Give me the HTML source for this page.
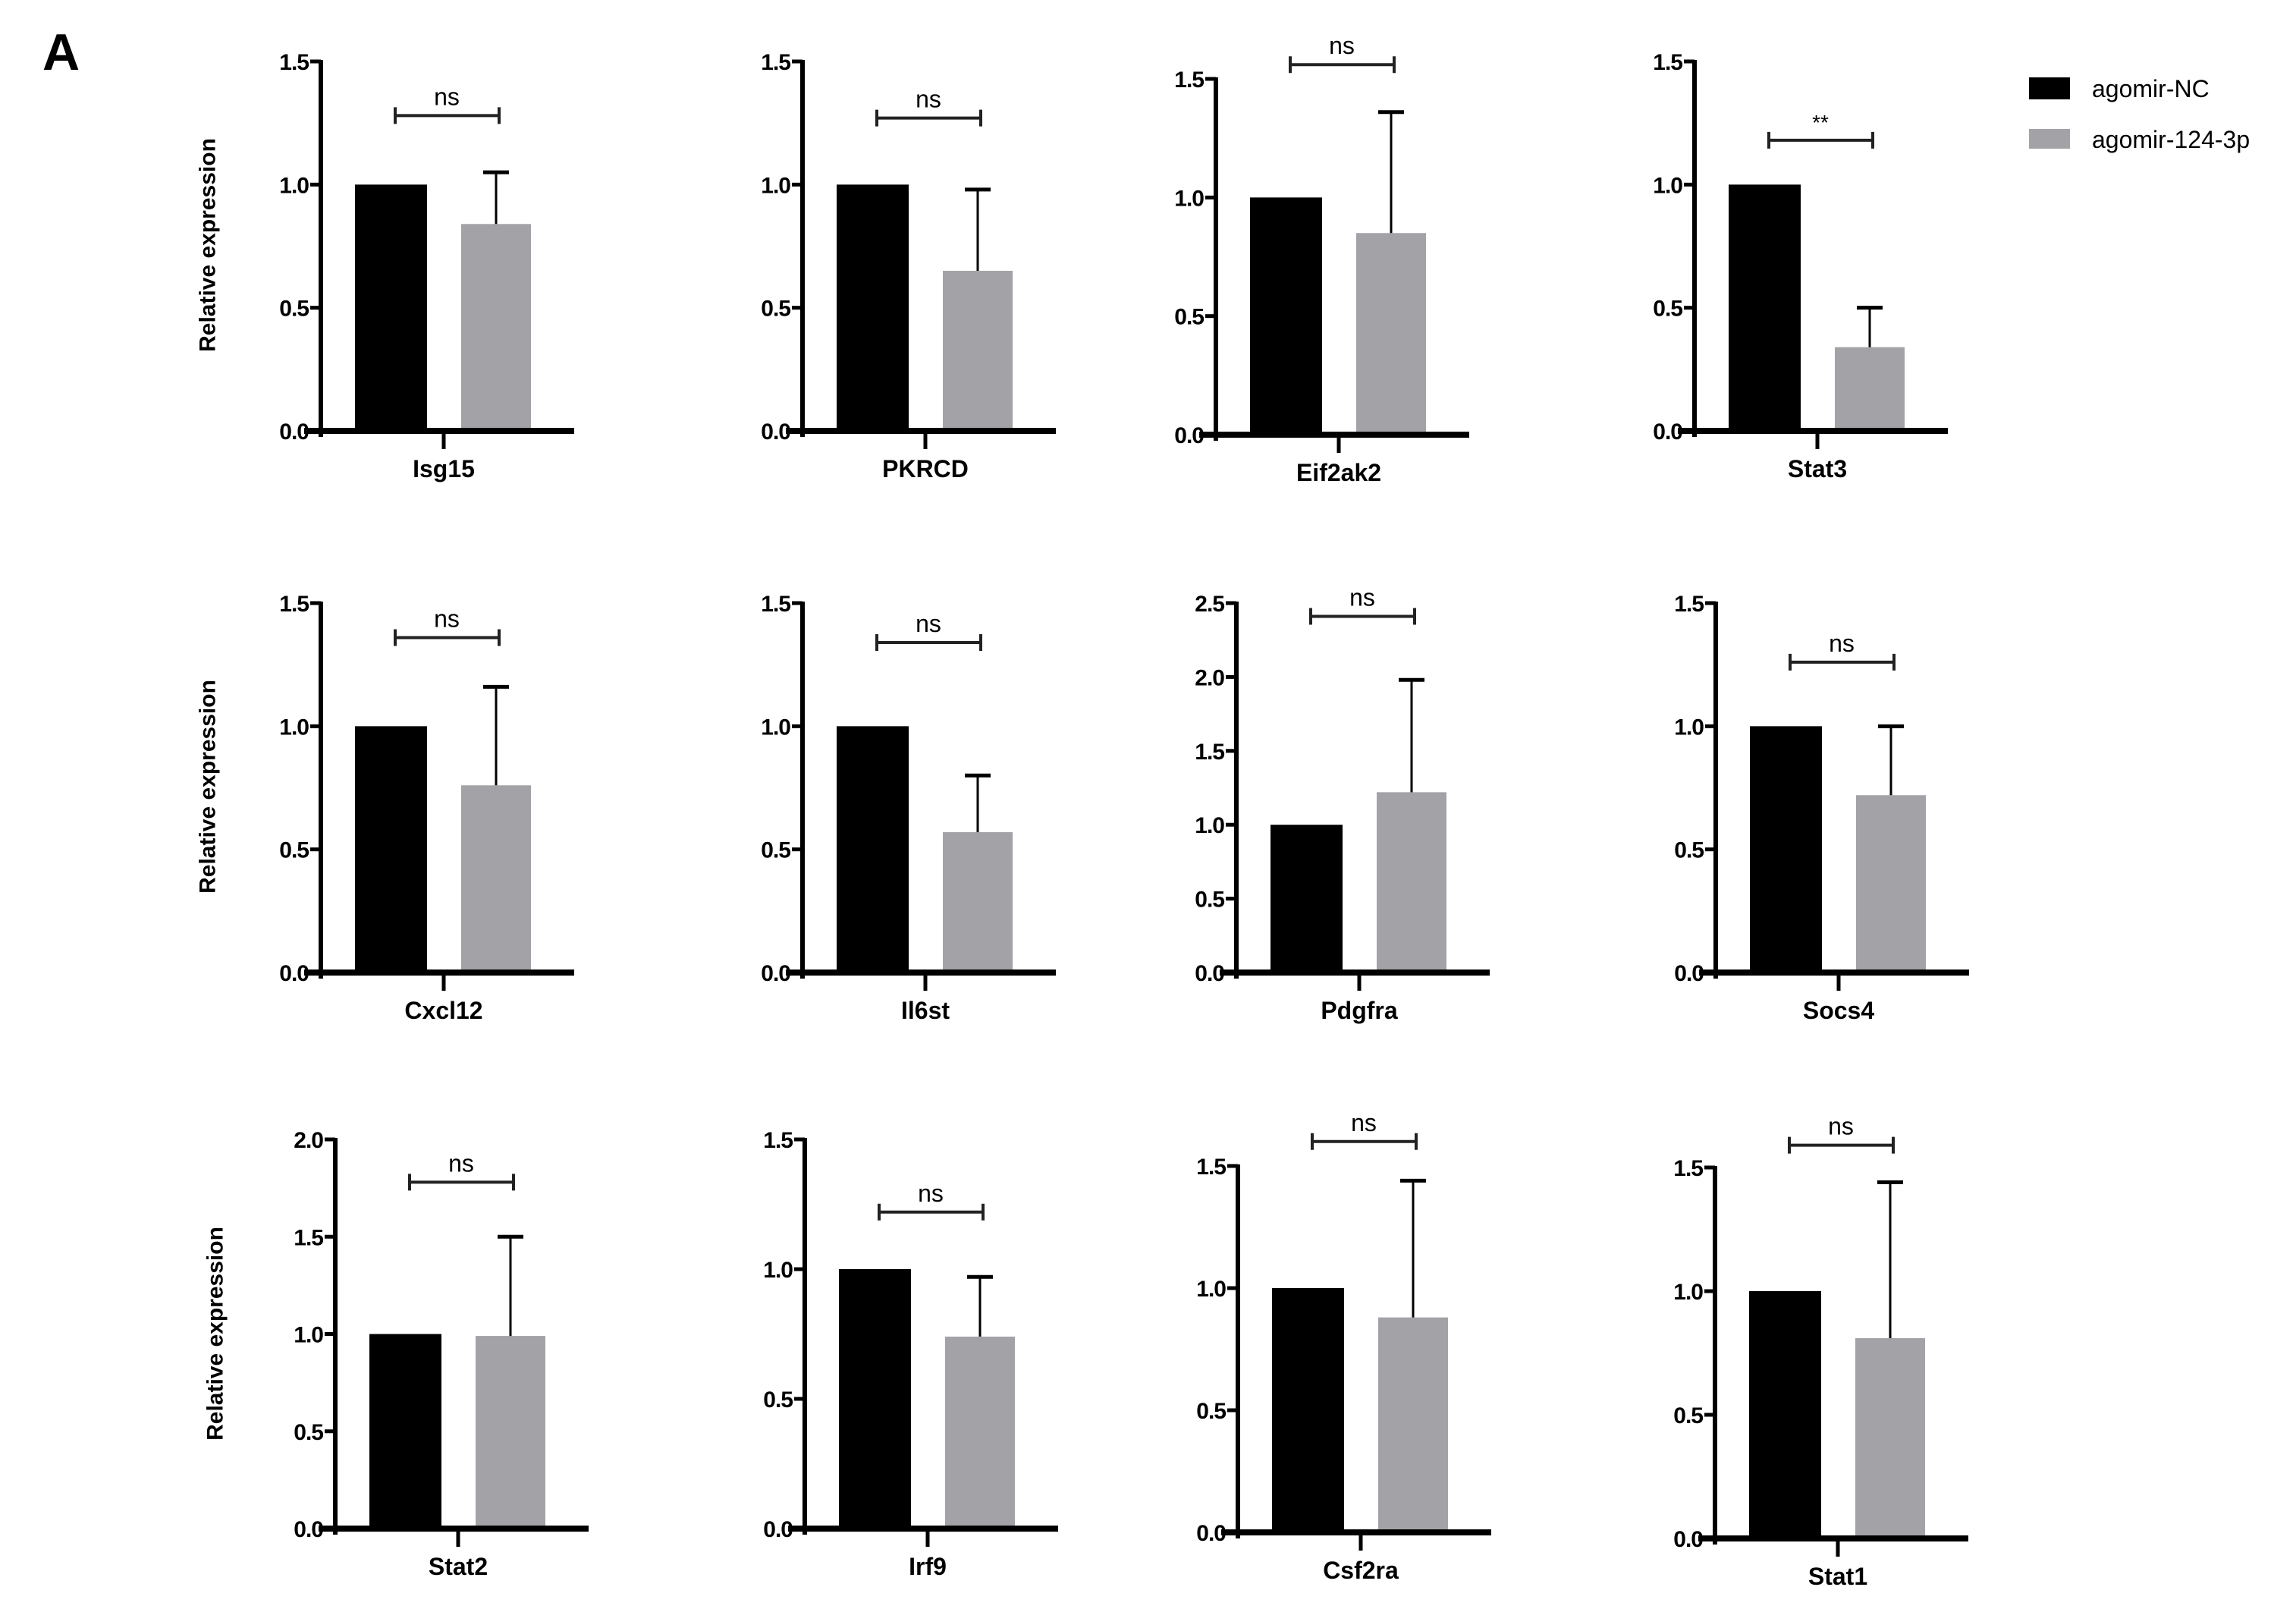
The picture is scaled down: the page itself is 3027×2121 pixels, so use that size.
<!DOCTYPE html>
<html><head><meta charset="utf-8"><style>
html,body{margin:0;padding:0;background:#fff}
svg{display:block}
text{font-family:"Liberation Sans",Arial,sans-serif}
</style></head><body>
<svg id="chart" width="3027" height="2121" viewBox="0 0 3027 2121" xmlns="http://www.w3.org/2000/svg">
<text x="56" y="92" font-size="68" font-weight="bold">A</text>
<g>
<rect x="2675" y="102" width="54" height="29" fill="#000"/>
<text x="2758" y="128" font-size="32">agomir-NC</text>
<rect x="2675" y="170" width="54" height="26" fill="#a3a3a7"/>
<text x="2758" y="195" font-size="32">agomir-124-3p</text>
</g>
</svg>
<script>
const genes = ["Isg15","PKRCD","Eif2ak2","Stat3","Cxcl12","Il6st","Pdgfra","Socs4","Stat2","Irf9","Csf2ra","Stat1"];
const ncValues = [1,1,1,1,1,1,1,1,1,1,1,1];
const agoValues = [0.84,0.65,0.85,0.34,0.76,0.57,1.22,0.72,0.99,0.74,0.88,0.81];
const agoErrors = [0.21,0.33,0.51,0.16,0.40,0.23,0.76,0.28,0.51,0.23,0.56,0.63];
const yMaxes = [1.5,1.5,1.5,1.5,1.5,1.5,2.5,1.5,2.0,1.5,1.5,1.5];
const yTickSteps = [0.5,0.5,0.5,0.5,0.5,0.5,0.5,0.5,0.5,0.5,0.5,0.5];
const sigLabels = ["ns","ns","ns","**","ns","ns","ns","ns","ns","ns","ns","ns"];
const sigLevels = [1.28,1.27,1.56,1.18,1.36,1.34,2.41,1.26,1.78,1.22,1.60,1.59];

const layout = [
 {ax:423,top:81,y0:568},{ax:1058,top:81,y0:568},{ax:1603,top:104,y0:573},{ax:2234,top:81,y0:568},
 {ax:423,top:795,y0:1282},{ax:1058,top:795,y0:1282},{ax:1630,top:795,y0:1282},{ax:2262,top:795,y0:1282},
 {ax:442,top:1502,y0:2015},{ax:1061,top:1502,y0:2015},{ax:1632,top:1537,y0:2020},{ax:2261,top:1539,y0:2028}
];
const titleYs = [323,1037,1758];
const NS = "http://www.w3.org/2000/svg";
const svg = document.getElementById('chart');
function mk(tag, attrs, parent){const e=document.createElementNS(NS,tag);for(const k in attrs)e.setAttribute(k,attrs[k]);(parent||svg).appendChild(e);return e;}

titleYs.forEach((ty,i)=>{
  const x = i===2?284:274;
  const t = mk('text',{x:x,y:ty,'font-size':30,'font-weight':'bold','text-anchor':'middle',transform:`rotate(-90 ${x} ${ty})`,'dominant-baseline':'central'});
  
  
  t.textContent='Relative expression';
});

genes.forEach((g,i)=>{
  const L = layout[i];
  const grp = mk('g',{});
  
  
  const yMax = yMaxes[i];
  const y = v => L.y0 - (v/yMax)*(L.y0-L.top);
  const ax = L.ax;
  const b1 = mk('rect',{x:ax+45,y:y(ncValues[i]),width:95,height:L.y0-y(ncValues[i]),fill:'#000'},grp);
  
  
  const b2 = mk('rect',{x:ax+185,y:y(agoValues[i]),width:92,height:L.y0-y(agoValues[i]),fill:'#a3a3a7'},grp);
  
  
  const cx = ax+231, eTop = y(agoValues[i]+agoErrors[i]);
  const el = mk('line',{x1:cx,y1:y(agoValues[i]),x2:cx,y2:eTop,stroke:'#000','stroke-width':3},grp);
  
  
  const ec = mk('line',{x1:cx-17,y1:eTop,x2:cx+17,y2:eTop,stroke:'#000','stroke-width':5},grp);
  
  
  const ya = mk('line',{x1:ax,y1:L.top-2,x2:ax,y2:L.y0+8,stroke:'#000','stroke-width':6},grp);
  
  
  const xa = mk('line',{x1:ax-22,y1:L.y0,x2:ax+334,y2:L.y0,stroke:'#000','stroke-width':8},grp);
  
  
  const ct = mk('line',{x1:ax+162,y1:L.y0,x2:ax+162,y2:L.y0+24,stroke:'#000','stroke-width':5},grp);
  
  
  for(let v=0; v<=yMax+1e-9; v+=yTickSteps[i]){
    const tk = mk('line',{x1:ax-14,y1:y(v),x2:ax,y2:y(v),stroke:'#000','stroke-width':5},grp);
    
    
    const tl = mk('text',{x:ax-16,y:y(v)+11,'font-size':30,'font-weight':'bold','text-anchor':'end','letter-spacing':'-1'},grp);
    
    
    tl.textContent = v.toFixed(1);
  }
  const cl = mk('text',{x:ax+162,y:L.y0+61,'font-size':32,'font-weight':'bold','text-anchor':'middle'},grp);
  
  
  cl.textContent = g;
  const by = y(sigLevels[i]);
  const br = mk('path',{d:`M${ax+98} ${by-11}V${by+11}M${ax+98} ${by}H${ax+235}M${ax+235} ${by-11}V${by+11}`,stroke:'#222','stroke-width':4,fill:'none'},grp);
  
  
  const st = mk('text',{x:ax+166,y:by-14,'font-size':sigLabels[i]==='**'?28:32,'text-anchor':'middle'},grp);
  
  
  st.textContent = sigLabels[i];
});
</script>
</body></html>
